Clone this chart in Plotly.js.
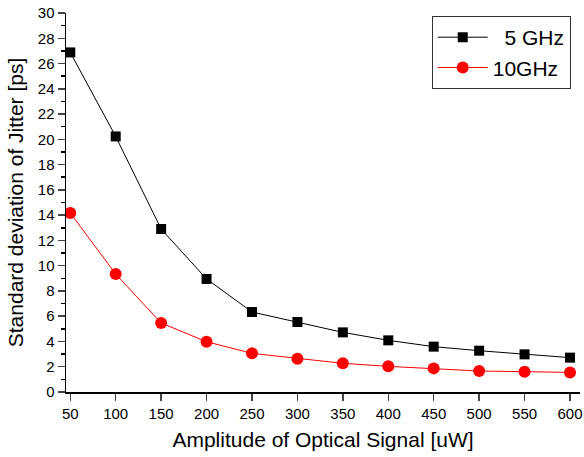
<!DOCTYPE html>
<html><head><meta charset="utf-8">
<script src="https://cdn.plot.ly/plotly-3.0.1.min.js"></script>
<style>html,body{margin:0;padding:0;background:#fff}</style>
</head><body>
<div id="chart" style="width:584px;height:457px"></div>
<script>
const amplitude = [50,100,150,200,250,300,350,400,450,500,550,600];
const jitter5GHz = [26.88,20.23,12.9,8.95,6.33,5.54,4.72,4.09,3.59,3.27,2.98,2.72];
const jitter10GHz = [14.17,9.34,5.46,3.98,3.06,2.64,2.27,2.03,1.87,1.66,1.61,1.55];
const seriesNames = ['  5 GHz','10GHz'];

const traces = [
  {x: amplitude, y: jitter5GHz, name: seriesNames[0], type: 'scatter', mode: 'lines+markers',
   line: {color: '#000000', width: 1}, marker: {symbol: 'square', size: 10, color: '#000000'}},
  {x: amplitude, y: jitter10GHz, name: seriesNames[1], type: 'scatter', mode: 'lines+markers',
   line: {color: '#ff0000', width: 1}, marker: {symbol: 'circle', size: 12, color: '#ff0000'}}
];
const font = '"Liberation Sans", Arial, sans-serif';
const layout = {
  width: 584, height: 457,
  margin: {l: 66, r: 4, t: 13, b: 65},
  paper_bgcolor: '#fff', plot_bgcolor: '#fff',
  font: {family: font, color: '#000'},
  showlegend: true,
  legend: {x: 0.982, y: 0.992, xanchor: 'right', yanchor: 'top', bordercolor: '#333', borderwidth: 1,
           font: {size: 21, family: font}, bgcolor: '#fff', tracegroupgap: 0, itemwidth: 50},
  xaxis: {
    range: [45.3, 611], tickvals: amplitude, ticks: 'outside', ticklen: 7, tickwidth: 1.5,
    showline: true, linecolor: '#000', linewidth: 1.5, showgrid: false, zeroline: false,
    tickfont: {size: 15, family: font},
    title: {text: 'Amplitude of Optical Signal [uW]', font: {size: 21, family: font}, standoff: 12}
  },
  yaxis: {
    range: [0, 30], dtick: 2, tick0: 0, ticks: 'outside', ticklen: 7, tickwidth: 1.5,
    showline: true, linecolor: '#000', linewidth: 1.5, showgrid: false, zeroline: false,
    tickfont: {size: 15, family: font},
    minor: {dtick: 1, ticks: 'outside', ticklen: 4, tickwidth: 1.5, tickcolor: '#000', showgrid: false},
    title: {text: 'Standard deviation of Jitter [ps]', font: {size: 21, family: font}, standoff: 8}
  }
};
Plotly.newPlot('chart', traces, layout, {displayModeBar: false, staticPlot: true});
</script>
</body></html>
